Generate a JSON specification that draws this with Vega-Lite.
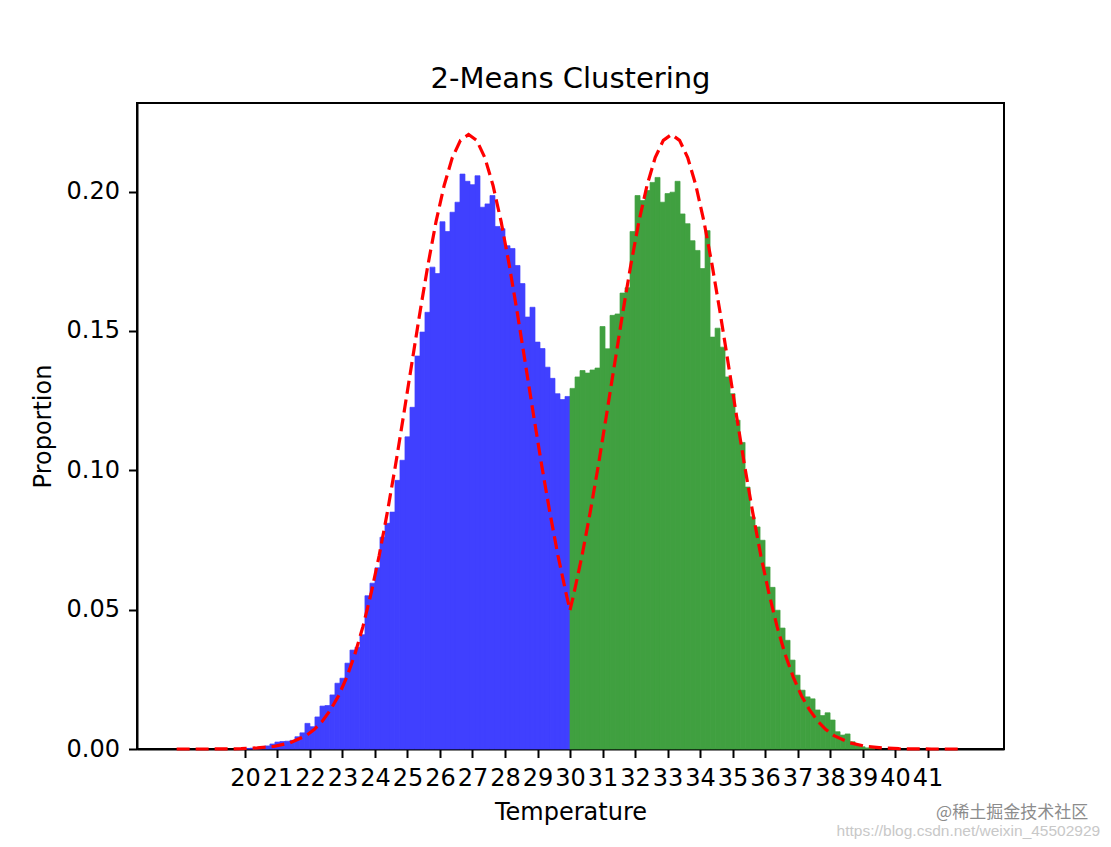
{
  "$schema": "https://vega.github.io/schema/vega-lite/v6.json",
  "width": 867,
  "height": 646,
  "autosize": {"type": "none"},
  "padding": {"left": 137, "top": 103, "right": 107, "bottom": 98},
  "background": "white",
  "config": {
    "font": "DejaVu Sans",
    "view": {"stroke": "black", "strokeWidth": 2},
    "axis": {
      "grid": false,
      "domainColor": "black",
      "domainWidth": 2,
      "tickColor": "black",
      "tickWidth": 2,
      "tickSize": 8.5,
      "labelFont": "DejaVu Sans",
      "labelFontSize": 24,
      "labelColor": "black",
      "labelOverlap": false,
      "labelFlush": false,
      "labelBound": false,
      "labelPadding": 9,
      "titleFont": "DejaVu Sans",
      "titleFontSize": 24,
      "titleFontWeight": "normal",
      "titleColor": "black"
    }
  },
  "title": {
    "text": "2-Means Clustering",
    "font": "DejaVu Sans",
    "fontSize": 29,
    "fontWeight": "normal",
    "color": "black",
    "anchor": "middle",
    "offset": 9
  },
  "datasets": {
    "hist": [
      {"c": "blue", "x0": 20.000, "x1": 20.154, "p": 0.0002},
      {"c": "blue", "x0": 20.154, "x1": 20.308, "p": 0.0003},
      {"c": "blue", "x0": 20.308, "x1": 20.462, "p": 0.0005},
      {"c": "blue", "x0": 20.462, "x1": 20.615, "p": 0.0008},
      {"c": "blue", "x0": 20.615, "x1": 20.769, "p": 0.0011},
      {"c": "blue", "x0": 20.769, "x1": 20.923, "p": 0.0018},
      {"c": "blue", "x0": 20.923, "x1": 21.077, "p": 0.0025},
      {"c": "blue", "x0": 21.077, "x1": 21.231, "p": 0.0027},
      {"c": "blue", "x0": 21.231, "x1": 21.385, "p": 0.0028},
      {"c": "blue", "x0": 21.385, "x1": 21.538, "p": 0.0031},
      {"c": "blue", "x0": 21.538, "x1": 21.692, "p": 0.0044},
      {"c": "blue", "x0": 21.692, "x1": 21.846, "p": 0.0058},
      {"c": "blue", "x0": 21.846, "x1": 22.000, "p": 0.0092},
      {"c": "blue", "x0": 22.000, "x1": 22.154, "p": 0.0080},
      {"c": "blue", "x0": 22.154, "x1": 22.308, "p": 0.0115},
      {"c": "blue", "x0": 22.308, "x1": 22.462, "p": 0.0154},
      {"c": "blue", "x0": 22.462, "x1": 22.615, "p": 0.0156},
      {"c": "blue", "x0": 22.615, "x1": 22.769, "p": 0.0194},
      {"c": "blue", "x0": 22.769, "x1": 22.923, "p": 0.0236},
      {"c": "blue", "x0": 22.923, "x1": 23.077, "p": 0.0254},
      {"c": "blue", "x0": 23.077, "x1": 23.231, "p": 0.0308},
      {"c": "blue", "x0": 23.231, "x1": 23.385, "p": 0.0355},
      {"c": "blue", "x0": 23.385, "x1": 23.538, "p": 0.0365},
      {"c": "blue", "x0": 23.538, "x1": 23.692, "p": 0.0410},
      {"c": "blue", "x0": 23.692, "x1": 23.846, "p": 0.0550},
      {"c": "blue", "x0": 23.846, "x1": 24.000, "p": 0.0595},
      {"c": "blue", "x0": 24.000, "x1": 24.154, "p": 0.0650},
      {"c": "blue", "x0": 24.154, "x1": 24.308, "p": 0.0760},
      {"c": "blue", "x0": 24.308, "x1": 24.462, "p": 0.0810},
      {"c": "blue", "x0": 24.462, "x1": 24.615, "p": 0.0850},
      {"c": "blue", "x0": 24.615, "x1": 24.769, "p": 0.0964},
      {"c": "blue", "x0": 24.769, "x1": 24.923, "p": 0.1036},
      {"c": "blue", "x0": 24.923, "x1": 25.077, "p": 0.1120},
      {"c": "blue", "x0": 25.077, "x1": 25.231, "p": 0.1226},
      {"c": "blue", "x0": 25.231, "x1": 25.385, "p": 0.1410},
      {"c": "blue", "x0": 25.385, "x1": 25.538, "p": 0.1496},
      {"c": "blue", "x0": 25.538, "x1": 25.692, "p": 0.1567},
      {"c": "blue", "x0": 25.692, "x1": 25.846, "p": 0.1729},
      {"c": "blue", "x0": 25.846, "x1": 26.000, "p": 0.1706},
      {"c": "blue", "x0": 26.000, "x1": 26.154, "p": 0.1892},
      {"c": "blue", "x0": 26.154, "x1": 26.308, "p": 0.1857},
      {"c": "blue", "x0": 26.308, "x1": 26.462, "p": 0.1926},
      {"c": "blue", "x0": 26.462, "x1": 26.615, "p": 0.1962},
      {"c": "blue", "x0": 26.615, "x1": 26.769, "p": 0.2063},
      {"c": "blue", "x0": 26.769, "x1": 26.923, "p": 0.2037},
      {"c": "blue", "x0": 26.923, "x1": 27.077, "p": 0.2025},
      {"c": "blue", "x0": 27.077, "x1": 27.231, "p": 0.2057},
      {"c": "blue", "x0": 27.231, "x1": 27.385, "p": 0.1944},
      {"c": "blue", "x0": 27.385, "x1": 27.538, "p": 0.1956},
      {"c": "blue", "x0": 27.538, "x1": 27.692, "p": 0.1986},
      {"c": "blue", "x0": 27.692, "x1": 27.846, "p": 0.1875},
      {"c": "blue", "x0": 27.846, "x1": 28.000, "p": 0.1867},
      {"c": "blue", "x0": 28.000, "x1": 28.154, "p": 0.1806},
      {"c": "blue", "x0": 28.154, "x1": 28.308, "p": 0.1796},
      {"c": "blue", "x0": 28.308, "x1": 28.462, "p": 0.1735},
      {"c": "blue", "x0": 28.462, "x1": 28.615, "p": 0.1670},
      {"c": "blue", "x0": 28.615, "x1": 28.769, "p": 0.1550},
      {"c": "blue", "x0": 28.769, "x1": 28.923, "p": 0.1585},
      {"c": "blue", "x0": 28.923, "x1": 29.077, "p": 0.1460},
      {"c": "blue", "x0": 29.077, "x1": 29.231, "p": 0.1437},
      {"c": "blue", "x0": 29.231, "x1": 29.385, "p": 0.1370},
      {"c": "blue", "x0": 29.385, "x1": 29.538, "p": 0.1330},
      {"c": "blue", "x0": 29.538, "x1": 29.692, "p": 0.1275},
      {"c": "blue", "x0": 29.692, "x1": 29.846, "p": 0.1254},
      {"c": "blue", "x0": 29.846, "x1": 30.000, "p": 0.1265},
      {"c": "green", "x0": 30.000, "x1": 30.154, "p": 0.1294},
      {"c": "green", "x0": 30.154, "x1": 30.308, "p": 0.1335},
      {"c": "green", "x0": 30.308, "x1": 30.462, "p": 0.1358},
      {"c": "green", "x0": 30.462, "x1": 30.615, "p": 0.1349},
      {"c": "green", "x0": 30.615, "x1": 30.769, "p": 0.1360},
      {"c": "green", "x0": 30.769, "x1": 30.923, "p": 0.1367},
      {"c": "green", "x0": 30.923, "x1": 31.077, "p": 0.1516},
      {"c": "green", "x0": 31.077, "x1": 31.231, "p": 0.1436},
      {"c": "green", "x0": 31.231, "x1": 31.385, "p": 0.1556},
      {"c": "green", "x0": 31.385, "x1": 31.538, "p": 0.1561},
      {"c": "green", "x0": 31.538, "x1": 31.692, "p": 0.1636},
      {"c": "green", "x0": 31.692, "x1": 31.846, "p": 0.1655},
      {"c": "green", "x0": 31.846, "x1": 32.000, "p": 0.1857},
      {"c": "green", "x0": 32.000, "x1": 32.154, "p": 0.1986},
      {"c": "green", "x0": 32.154, "x1": 32.308, "p": 0.1968},
      {"c": "green", "x0": 32.308, "x1": 32.462, "p": 0.2004},
      {"c": "green", "x0": 32.462, "x1": 32.615, "p": 0.2033},
      {"c": "green", "x0": 32.615, "x1": 32.769, "p": 0.2051},
      {"c": "green", "x0": 32.769, "x1": 32.923, "p": 0.1962},
      {"c": "green", "x0": 32.923, "x1": 33.077, "p": 0.1993},
      {"c": "green", "x0": 33.077, "x1": 33.231, "p": 0.1998},
      {"c": "green", "x0": 33.231, "x1": 33.385, "p": 0.2037},
      {"c": "green", "x0": 33.385, "x1": 33.538, "p": 0.1920},
      {"c": "green", "x0": 33.538, "x1": 33.692, "p": 0.1885},
      {"c": "green", "x0": 33.692, "x1": 33.846, "p": 0.1824},
      {"c": "green", "x0": 33.846, "x1": 34.000, "p": 0.1789},
      {"c": "green", "x0": 34.000, "x1": 34.154, "p": 0.1724},
      {"c": "green", "x0": 34.154, "x1": 34.308, "p": 0.1860},
      {"c": "green", "x0": 34.308, "x1": 34.462, "p": 0.1478},
      {"c": "green", "x0": 34.462, "x1": 34.615, "p": 0.1510},
      {"c": "green", "x0": 34.615, "x1": 34.769, "p": 0.1442},
      {"c": "green", "x0": 34.769, "x1": 34.923, "p": 0.1335},
      {"c": "green", "x0": 34.923, "x1": 35.077, "p": 0.1275},
      {"c": "green", "x0": 35.077, "x1": 35.231, "p": 0.1180},
      {"c": "green", "x0": 35.231, "x1": 35.385, "p": 0.1100},
      {"c": "green", "x0": 35.385, "x1": 35.538, "p": 0.0940},
      {"c": "green", "x0": 35.538, "x1": 35.692, "p": 0.0833},
      {"c": "green", "x0": 35.692, "x1": 35.846, "p": 0.0797},
      {"c": "green", "x0": 35.846, "x1": 36.000, "p": 0.0749},
      {"c": "green", "x0": 36.000, "x1": 36.154, "p": 0.0653},
      {"c": "green", "x0": 36.154, "x1": 36.308, "p": 0.0580},
      {"c": "green", "x0": 36.308, "x1": 36.462, "p": 0.0498},
      {"c": "green", "x0": 36.462, "x1": 36.615, "p": 0.0434},
      {"c": "green", "x0": 36.615, "x1": 36.769, "p": 0.0390},
      {"c": "green", "x0": 36.769, "x1": 36.923, "p": 0.0319},
      {"c": "green", "x0": 36.923, "x1": 37.077, "p": 0.0265},
      {"c": "green", "x0": 37.077, "x1": 37.231, "p": 0.0211},
      {"c": "green", "x0": 37.231, "x1": 37.385, "p": 0.0187},
      {"c": "green", "x0": 37.385, "x1": 37.538, "p": 0.0180},
      {"c": "green", "x0": 37.538, "x1": 37.692, "p": 0.0140},
      {"c": "green", "x0": 37.692, "x1": 37.846, "p": 0.0120},
      {"c": "green", "x0": 37.846, "x1": 38.000, "p": 0.0130},
      {"c": "green", "x0": 38.000, "x1": 38.154, "p": 0.0104},
      {"c": "green", "x0": 38.154, "x1": 38.308, "p": 0.0062},
      {"c": "green", "x0": 38.308, "x1": 38.462, "p": 0.0050},
      {"c": "green", "x0": 38.462, "x1": 38.615, "p": 0.0054},
      {"c": "green", "x0": 38.615, "x1": 38.769, "p": 0.0026},
      {"c": "green", "x0": 38.769, "x1": 38.923, "p": 0.0014},
      {"c": "green", "x0": 38.923, "x1": 39.077, "p": 0.0008},
      {"c": "green", "x0": 39.077, "x1": 39.231, "p": 0.0004},
      {"c": "green", "x0": 39.231, "x1": 39.385, "p": 0.0002}
    ],
    "fit": [
      {"curve": "a", "x": 17.90, "p": 0.0000},
      {"curve": "a", "x": 18.88, "p": 0.0000},
      {"curve": "a", "x": 19.88, "p": 0.0001},
      {"curve": "a", "x": 20.38, "p": 0.0004},
      {"curve": "a", "x": 20.88, "p": 0.0009},
      {"curve": "a", "x": 21.38, "p": 0.0022},
      {"curve": "a", "x": 21.88, "p": 0.0048},
      {"curve": "a", "x": 22.13, "p": 0.0070},
      {"curve": "a", "x": 22.38, "p": 0.0100},
      {"curve": "a", "x": 22.63, "p": 0.0140},
      {"curve": "a", "x": 22.88, "p": 0.0191},
      {"curve": "a", "x": 23.13, "p": 0.0257},
      {"curve": "a", "x": 23.38, "p": 0.0339},
      {"curve": "a", "x": 23.63, "p": 0.0439},
      {"curve": "a", "x": 23.88, "p": 0.0558},
      {"curve": "a", "x": 24.13, "p": 0.0694},
      {"curve": "a", "x": 24.38, "p": 0.0849},
      {"curve": "a", "x": 24.63, "p": 0.1017},
      {"curve": "a", "x": 24.88, "p": 0.1197},
      {"curve": "a", "x": 25.13, "p": 0.1381},
      {"curve": "a", "x": 25.38, "p": 0.1564},
      {"curve": "a", "x": 25.63, "p": 0.1737},
      {"curve": "a", "x": 25.88, "p": 0.1893},
      {"curve": "a", "x": 26.13, "p": 0.2023},
      {"curve": "a", "x": 26.38, "p": 0.2122},
      {"curve": "a", "x": 26.63, "p": 0.2184},
      {"curve": "a", "x": 26.88, "p": 0.2205},
      {"curve": "a", "x": 27.13, "p": 0.2184},
      {"curve": "a", "x": 27.38, "p": 0.2122},
      {"curve": "a", "x": 27.63, "p": 0.2023},
      {"curve": "a", "x": 27.88, "p": 0.1893},
      {"curve": "a", "x": 28.13, "p": 0.1737},
      {"curve": "a", "x": 28.38, "p": 0.1564},
      {"curve": "a", "x": 28.63, "p": 0.1381},
      {"curve": "a", "x": 28.88, "p": 0.1197},
      {"curve": "a", "x": 29.13, "p": 0.1017},
      {"curve": "a", "x": 29.38, "p": 0.0849},
      {"curve": "a", "x": 29.63, "p": 0.0694},
      {"curve": "a", "x": 29.88, "p": 0.0558},
      {"curve": "a", "x": 30.00, "p": 0.0498},
      {"curve": "b", "x": 30.00, "p": 0.0498},
      {"curve": "b", "x": 30.12, "p": 0.0558},
      {"curve": "b", "x": 30.37, "p": 0.0694},
      {"curve": "b", "x": 30.62, "p": 0.0849},
      {"curve": "b", "x": 30.87, "p": 0.1017},
      {"curve": "b", "x": 31.12, "p": 0.1197},
      {"curve": "b", "x": 31.37, "p": 0.1381},
      {"curve": "b", "x": 31.62, "p": 0.1564},
      {"curve": "b", "x": 31.87, "p": 0.1737},
      {"curve": "b", "x": 32.12, "p": 0.1893},
      {"curve": "b", "x": 32.37, "p": 0.2023},
      {"curve": "b", "x": 32.62, "p": 0.2122},
      {"curve": "b", "x": 32.87, "p": 0.2184},
      {"curve": "b", "x": 33.12, "p": 0.2205},
      {"curve": "b", "x": 33.37, "p": 0.2184},
      {"curve": "b", "x": 33.62, "p": 0.2122},
      {"curve": "b", "x": 33.87, "p": 0.2023},
      {"curve": "b", "x": 34.12, "p": 0.1893},
      {"curve": "b", "x": 34.37, "p": 0.1737},
      {"curve": "b", "x": 34.62, "p": 0.1564},
      {"curve": "b", "x": 34.87, "p": 0.1381},
      {"curve": "b", "x": 35.12, "p": 0.1197},
      {"curve": "b", "x": 35.37, "p": 0.1017},
      {"curve": "b", "x": 35.62, "p": 0.0849},
      {"curve": "b", "x": 35.87, "p": 0.0694},
      {"curve": "b", "x": 36.12, "p": 0.0558},
      {"curve": "b", "x": 36.37, "p": 0.0439},
      {"curve": "b", "x": 36.62, "p": 0.0339},
      {"curve": "b", "x": 36.87, "p": 0.0257},
      {"curve": "b", "x": 37.12, "p": 0.0191},
      {"curve": "b", "x": 37.37, "p": 0.0140},
      {"curve": "b", "x": 37.62, "p": 0.0100},
      {"curve": "b", "x": 37.87, "p": 0.0070},
      {"curve": "b", "x": 38.12, "p": 0.0048},
      {"curve": "b", "x": 38.62, "p": 0.0022},
      {"curve": "b", "x": 39.12, "p": 0.0009},
      {"curve": "b", "x": 39.62, "p": 0.0004},
      {"curve": "b", "x": 40.12, "p": 0.0001},
      {"curve": "b", "x": 41.12, "p": 0.0000},
      {"curve": "b", "x": 42.10, "p": 0.0000}
    ]
  },
  "layer": [
    {
      "data": {"name": "hist"},
      "mark": {"type": "rect", "strokeWidth": 0.7},
      "encoding": {
        "x": {
          "field": "x0",
          "type": "quantitative",
          "scale": {"domain": [16.68, 43.35], "nice": false, "zero": false},
          "axis": {
            "values": [20, 21, 22, 23, 24, 25, 26, 27, 28, 29, 30, 31, 32, 33, 34, 35, 36, 37, 38, 39, 40, 41],
            "format": "d",
            "title": "Temperature",
            "titlePadding": 10
          }
        },
        "x2": {"field": "x1"},
        "y": {
          "field": "p",
          "type": "quantitative",
          "scale": {"domain": [0, 0.2318], "nice": false},
          "axis": {
            "values": [0, 0.05, 0.1, 0.15, 0.2],
            "format": ".2f",
            "title": "Proportion",
            "titlePadding": 11
          }
        },
        "y2": {"datum": 0},
        "color": {
          "field": "c",
          "type": "nominal",
          "scale": {"domain": ["blue", "green"], "range": ["#4040ff", "#40a040"]},
          "legend": null
        },
        "stroke": {
          "field": "c",
          "type": "nominal",
          "scale": {"domain": ["blue", "green"], "range": ["#4040ff", "#40a040"]},
          "legend": null
        }
      }
    },
    {
      "data": {"name": "fit"},
      "mark": {"type": "line", "color": "#ff0000", "strokeWidth": 3.2, "strokeDash": [13, 6]},
      "encoding": {
        "x": {"field": "x", "type": "quantitative"},
        "y": {"field": "p", "type": "quantitative"},
        "detail": {"field": "curve", "type": "nominal"}
      }
    },
    {
      "data": {"values": [{"label": "@稀土掘金技术社区"}]},
      "mark": {"type": "text", "align": "right", "baseline": "middle", "font": "Noto Sans CJK SC", "fontSize": 17, "color": "#8c8c8c"},
      "encoding": {
        "x": {"datum": 45.94},
        "y": {"datum": -0.0229},
        "text": {"field": "label"}
      }
    },
    {
      "data": {"values": [{"label": "https://blog.csdn.net/weixin_45502929"}]},
      "mark": {"type": "text", "align": "right", "baseline": "middle", "font": "Liberation Sans", "fontSize": 15.5, "color": "#c8c8c8"},
      "encoding": {
        "x": {"datum": 46.31},
        "y": {"datum": -0.0294},
        "text": {"field": "label"}
      }
    }
  ]
}
